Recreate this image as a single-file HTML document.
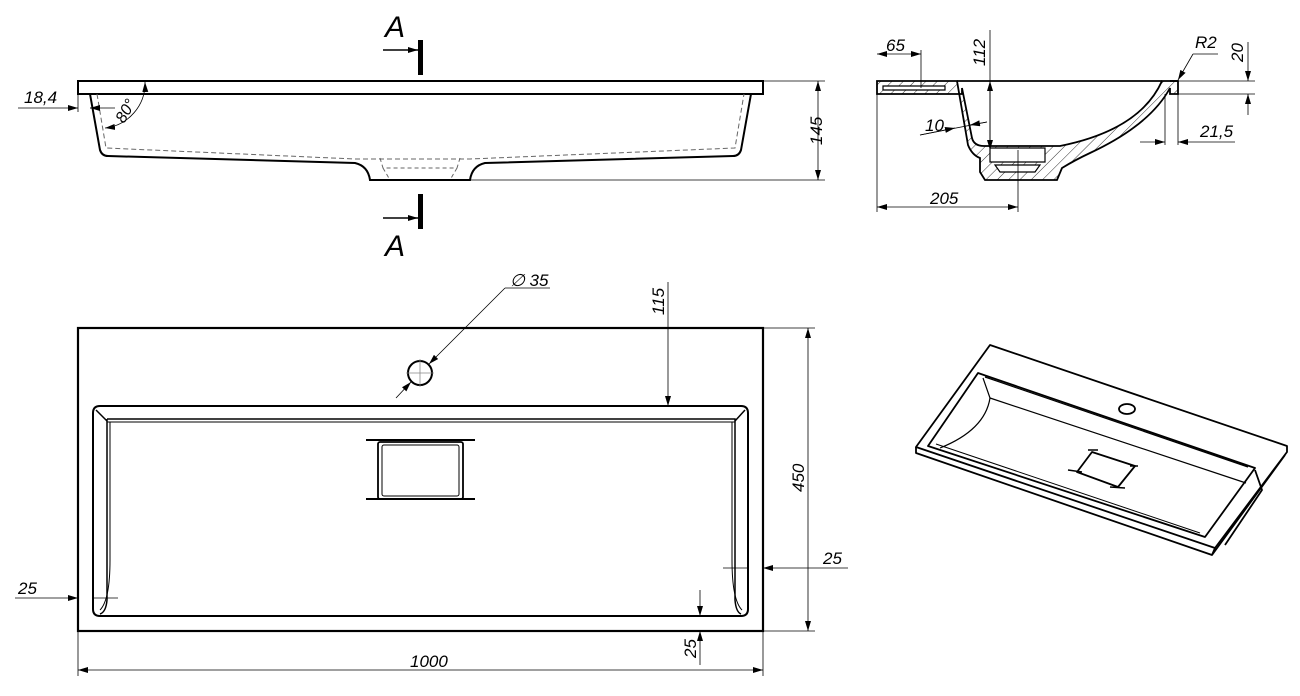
<!DOCTYPE html>
<html><head><meta charset="utf-8"><style>
html,body{margin:0;padding:0;background:#fff}
svg{display:block}
text{font-family:"Liberation Sans",sans-serif;font-style:italic;font-size:17px;fill:#000}
</style></head><body>
<svg width="1300" height="696" viewBox="0 0 1300 696" xmlns="http://www.w3.org/2000/svg">
<defs>
<marker id="ar" viewBox="0 0 10 6" refX="10" refY="3" markerWidth="10" markerHeight="6" orient="auto-start-reverse" markerUnits="userSpaceOnUse"><path d="M0,0L10,3L0,6z" fill="#000"/></marker>
<pattern id="h" width="8" height="8" patternUnits="userSpaceOnUse" patternTransform="rotate(45)"><line x1="0" y1="0" x2="0" y2="8" stroke="#000" stroke-width="0.8"/></pattern>
</defs>
<g fill="none" stroke="#000">
<!-- FRONT VIEW -->
<rect x="78" y="81" width="685" height="13" stroke-width="2"/>
<path d="M90,94 L100,150 Q102,156 108,156 L355,163 Q368,166 370,180 L470,180 Q472,166 485,163 L733,156 Q739,156 741,150 L751,94" stroke-width="2"/>
<path d="M97,94 L106,148 L355,159 L470,159 L735,148 L744,94" stroke="#666" stroke-dasharray="5,3" stroke-width="1"/>
<path d="M380,158 L383,168 L457,168 L460,158 M383,168 L390,180 M457,168 L450,180" stroke="#666" stroke-dasharray="4,3" stroke-width="1"/>
<g stroke-width="0.8">
<line x1="470" y1="180" x2="825" y2="180"/><line x1="763" y1="81" x2="825" y2="81"/>
<line x1="818" y1="81" x2="818" y2="180" marker-start="url(#ar)" marker-end="url(#ar)"/>
<line x1="18" y1="108" x2="78" y2="108" marker-end="url(#ar)"/><line x1="90" y1="108" x2="115" y2="108"/><line x1="100" y1="108" x2="90" y2="108" marker-end="url(#ar)"/>
<line x1="78" y1="94" x2="78" y2="112"/>
<path d="M145,82 A45,45 0 0 1 105,128" marker-start="url(#ar)" marker-end="url(#ar)"/>
</g>
<!-- Section marks -->
<rect x="418" y="40" width="5" height="35" fill="#000" stroke="none"/>
<rect x="418" y="194" width="5" height="35" fill="#000" stroke="none"/>
<line x1="383" y1="50" x2="418" y2="50" stroke-width="1.5" marker-end="url(#ar)"/>
<line x1="383" y1="218" x2="418" y2="218" stroke-width="1.5" marker-end="url(#ar)"/>

<!-- SECTION VIEW -->
<path d="M877,81 L957,81 L968,145 Q972,155 980,158 L980,172 L985,180 L1057,180 L1062,168 Q1075,160 1090,153 Q1150,125 1170,88 L1170,94 L1178,94 L1178,81 L1162,81 Q1140,130 1060,146 L984,146 Q974,146 972,138 L962,88 L962,94 L877,94 Z" fill="url(#h)" stroke-width="1.8"/>
<path d="M883,86 L945,86 L945,90 L883,90 Z" fill="#fff" stroke-width="1.2"/>
<path d="M1170,81 L1178,81" stroke-width="1.8"/>
<path d="M957,81 L1162,81" stroke-width="1.8"/>
<path d="M990,148 L1045,148 L1045,162 L990,162 Z M995,165 L1040,165 L1035,172 L1000,172 Z" stroke-width="1.2" fill="#fff"/>
<g stroke-width="0.8">
<line x1="877" y1="94" x2="877" y2="212"/><line x1="921" y1="50" x2="921" y2="88"/>
<line x1="877" y1="54" x2="921" y2="54" marker-start="url(#ar)" marker-end="url(#ar)"/>
<line x1="990" y1="30" x2="990" y2="150" /><line x1="990" y1="150" x2="990" y2="81" marker-end="url(#ar)"/><line x1="990" y1="81" x2="990" y2="150" marker-end="url(#ar)"/>
<line x1="1018" y1="150" x2="1018" y2="212"/>
<line x1="877" y1="207" x2="1018" y2="207" marker-start="url(#ar)" marker-end="url(#ar)"/>
<line x1="920" y1="135" x2="987" y2="122"/><line x1="920" y1="135" x2="955" y2="128" marker-end="url(#ar)"/><line x1="987" y1="122" x2="970" y2="125" marker-end="url(#ar)"/>
<line x1="1178" y1="81" x2="1255" y2="81"/><line x1="1178" y1="94" x2="1255" y2="94"/>
<line x1="1248" y1="42" x2="1248" y2="81" marker-end="url(#ar)"/><line x1="1248" y1="115" x2="1248" y2="94" marker-end="url(#ar)"/>
<line x1="1165" y1="94" x2="1165" y2="145"/><line x1="1178" y1="94" x2="1178" y2="145"/>
<line x1="1140" y1="142" x2="1165" y2="142" marker-end="url(#ar)"/><line x1="1235" y1="142" x2="1178" y2="142" marker-end="url(#ar)"/>
<line x1="1218" y1="54" x2="1193" y2="54"/><line x1="1193" y1="54" x2="1178" y2="80" marker-end="url(#ar)"/>
</g>

<!-- PLAN VIEW -->
<rect x="78" y="328" width="685" height="303" stroke-width="2.2"/>
<path d="M100,406 L741,406 Q748,406 748,413 L748,609 Q748,616 741,616 L100,616 Q93,616 93,609 L93,413 Q93,406 100,406 Z" stroke-width="2"/>
<path d="M107,419 L735,419 L735,600 Q736,612 741,614 M107,419 L107,600 Q106,612 100,614" stroke-width="1.5"/>
<path d="M107,422 L735,422" stroke-width="1"/>
<path d="M96,410 L107,421 M745,410 L735,421" stroke-width="1.5"/>
<path d="M110,422 L110,560 Q110,600 100,610 M732,422 L732,560 Q732,600 742,610" stroke-width="1"/>
<rect x="378" y="442" width="85" height="57" rx="2" stroke-width="1.8"/>
<rect x="382" y="445" width="77" height="51" rx="2" stroke-width="1"/>
<path d="M366,440 L475,440 M366,499 L475,499" stroke-width="2"/>
<circle cx="420" cy="373" r="12" stroke-width="2"/>
<g stroke-width="0.8">
<line x1="406" y1="373" x2="434" y2="373" stroke="#888"/><line x1="420" y1="359" x2="420" y2="387" stroke="#888"/>
<line x1="550" y1="288" x2="505" y2="288"/><line x1="505" y1="288" x2="429" y2="364" marker-end="url(#ar)"/>
<line x1="396" y1="398" x2="411" y2="382" marker-end="url(#ar)"/>
<line x1="668" y1="282" x2="668" y2="406" marker-end="url(#ar)"/>
<line x1="763" y1="328" x2="815" y2="328"/><line x1="763" y1="631" x2="815" y2="631"/>
<line x1="808" y1="328" x2="808" y2="631" marker-start="url(#ar)" marker-end="url(#ar)"/>
<line x1="78" y1="631" x2="78" y2="676"/><line x1="763" y1="631" x2="763" y2="676"/>
<line x1="78" y1="670" x2="763" y2="670" marker-start="url(#ar)" marker-end="url(#ar)"/>
<line x1="723" y1="568" x2="748" y2="568"/><line x1="848" y1="568" x2="763" y2="568" marker-end="url(#ar)"/>
<line x1="15" y1="598" x2="78" y2="598" marker-end="url(#ar)"/><line x1="93" y1="598" x2="118" y2="598"/>
<line x1="700" y1="590" x2="700" y2="616" marker-end="url(#ar)"/><line x1="700" y1="665" x2="700" y2="631" marker-end="url(#ar)"/>
</g>

<!-- ISOMETRIC -->
<g stroke-width="1.8" stroke-linejoin="round">
<path d="M990,345 L1287,446 L1287,452 L1215,548 L916,447 Z"/>
<path d="M916,447 L916,453 L1212,555 L1215,548 M1212,555 L1285,455"/>
<path d="M1255,470 L1262,490 L1225,545"/>
<path d="M978,373 L1255,468 L1205,537 L928,446 Z"/>
<path d="M985,377 L1248,467" stroke-width="1.2"/>
<path d="M983,378 L990,398 L1246,483" stroke-width="1.2"/>
<path d="M990,398 Q985,430 940,448" stroke-width="1.2"/>
<path d="M936,444 L1200,533" stroke-width="1"/>
<ellipse cx="1127" cy="409" rx="8" ry="5"/>
<path d="M1092,452 L1135,466 L1118,487 L1077,472 Z"/>
<path d="M1088,450 L1098,450 M1068,470 L1082,472 M1110,487 L1125,488 M1130,466 L1138,466" stroke-width="1.5"/>
</g>
</g>

<!-- TEXT -->
<text x="385" y="37" style="font-size:30px">A</text>
<text x="385" y="256" style="font-size:30px">A</text>
<text x="24" y="103">18,4</text>
<text x="0" y="0" transform="translate(124,124) rotate(-60)" style="font-size:16px">80°</text>
<text x="0" y="0" transform="translate(822,145) rotate(-90)">145</text>
<text x="886" y="51">65</text>
<text x="0" y="0" transform="translate(985,66) rotate(-90)">112</text>
<text x="1195" y="48">R2</text>
<text x="0" y="0" transform="translate(1243,62) rotate(-90)">20</text>
<text x="925" y="131">10</text>
<text x="1200" y="137">21,5</text>
<text x="930" y="204">205</text>
<text x="510" y="286">∅ 35</text>
<text x="0" y="0" transform="translate(664,315) rotate(-90)">115</text>
<text x="0" y="0" transform="translate(804,492) rotate(-90)">450</text>
<text x="823" y="564">25</text>
<text x="18" y="594">25</text>
<text x="0" y="0" transform="translate(696,658) rotate(-90)">25</text>
<text x="410" y="667">1000</text>
</svg>
</body></html>
